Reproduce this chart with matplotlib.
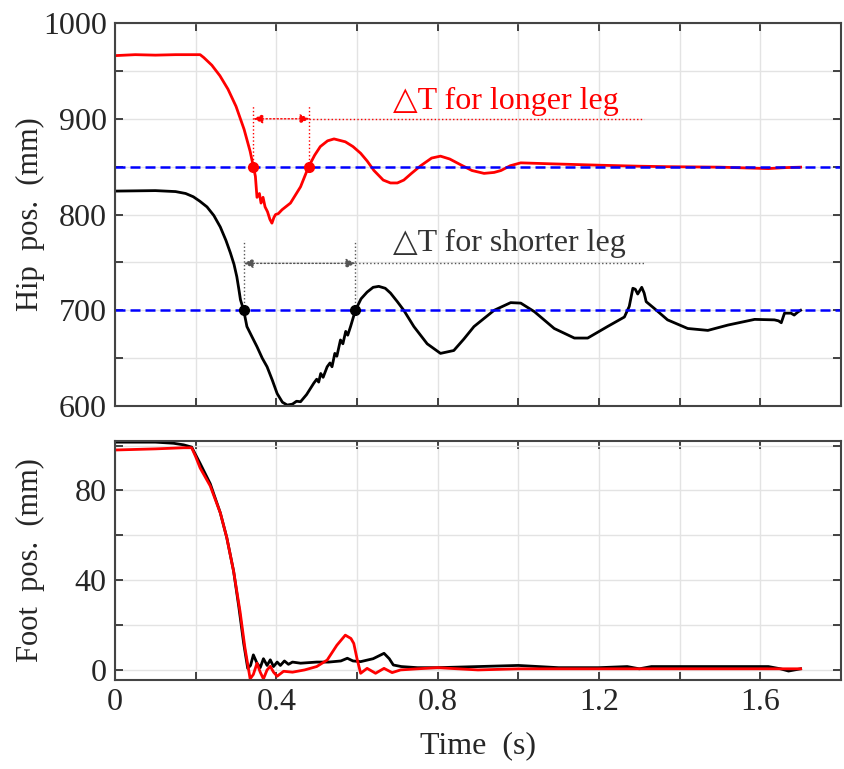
import numpy as np
import matplotlib
matplotlib.use("Agg")
import matplotlib.pyplot as plt

plt.rcParams['font.family'] = ['Liberation Serif', 'DejaVu Serif']
plt.rcParams['text.color'] = '#262626'
plt.rcParams['axes.labelcolor'] = '#262626'
plt.rcParams['xtick.labelcolor'] = '#262626'
plt.rcParams['ytick.labelcolor'] = '#262626'

# hip position, longer leg (red)
hip_long_t = [0, 0.05, 0.1, 0.15, 0.2, 0.211, 0.22, 0.24, 0.26, 0.28, 0.30, 0.32, 0.335, 0.343, 0.348,
              0.352, 0.358, 0.362, 0.367, 0.372, 0.378, 0.384, 0.389, 0.394, 0.398, 0.405, 0.414,
              0.435, 0.46, 0.48, 0.495, 0.509, 0.527, 0.543, 0.571, 0.59, 0.609, 0.625, 0.642, 0.665,
              0.683, 0.7, 0.716, 0.735, 0.758, 0.785, 0.807, 0.83, 0.857, 0.885, 0.915, 0.94, 0.957,
              0.98, 1.006, 1.08, 1.205, 1.3, 1.37, 1.5, 1.62, 1.66, 1.70]
hip_long = [966, 967, 966.5, 967, 967, 967, 964, 956, 945, 931, 913, 889, 866, 850, 840,
            818, 822, 812, 818, 808, 803, 795, 791, 797, 800, 801, 805,
            812, 829, 850, 862, 871, 877, 879, 876, 871, 864, 856, 846, 836,
            833, 833, 836, 843, 851, 859, 861, 858, 852, 846, 843, 844, 846,
            851, 854, 853, 851.5, 850.5, 850, 849.5, 848, 849, 849.5]

# hip position, shorter leg (black)
hip_short_t = [0, 0.1, 0.15, 0.175, 0.194, 0.21, 0.228, 0.245, 0.261, 0.275, 0.286, 0.295, 0.302,
               0.307, 0.311, 0.319, 0.327, 0.34, 0.352, 0.365, 0.377, 0.39, 0.402, 0.415, 0.427,
               0.44, 0.45, 0.46, 0.475, 0.493, 0.5, 0.505, 0.51, 0.516, 0.526, 0.533, 0.538, 0.545,
               0.55, 0.559, 0.565, 0.572, 0.577, 0.584, 0.596, 0.61, 0.625, 0.64, 0.654, 0.67, 0.683,
               0.7, 0.716, 0.741, 0.774, 0.807, 0.84, 0.865, 0.89, 0.94, 0.981, 1.006, 1.04, 1.089,
               1.139, 1.172, 1.221, 1.263, 1.275, 1.284, 1.29, 1.296, 1.306, 1.312, 1.317, 1.337,
               1.37, 1.42, 1.47, 1.52, 1.586, 1.635, 1.645, 1.652, 1.66, 1.676, 1.684, 1.694, 1.70]
hip_short = [824.5, 825, 824, 822, 818.6, 814, 808, 799, 787, 773, 760, 748, 735,
             722, 711, 700, 683, 672, 662, 650, 641, 627, 613, 604, 601,
             602, 605, 604.5, 612, 624, 628, 625, 634, 630, 641, 645, 641, 655,
             652, 669, 665, 678, 674, 683, 700, 712, 719, 724, 725, 723, 718,
             709, 700, 683, 665, 655, 658, 670, 683, 700, 708, 707.5, 698.5, 681,
             671, 671, 683, 693, 704, 723, 722, 717, 724, 718, 709, 702,
             690, 681, 679, 684.6, 690.5, 690, 689, 687, 697, 697, 695, 698.5, 700]

# foot position
foot_short_t = [0, 0.1, 0.145, 0.17, 0.19, 0.211, 0.236, 0.261, 0.277, 0.294, 0.307, 0.319, 0.329,
                0.336, 0.343, 0.352, 0.36, 0.368, 0.377, 0.385, 0.393, 0.402, 0.41, 0.42, 0.43,
                0.44, 0.46, 0.5, 0.53, 0.56, 0.576, 0.59, 0.609, 0.64, 0.667, 0.68, 0.69, 0.71,
                0.75, 0.8, 0.9, 1.0, 1.1, 1.2, 1.27, 1.3, 1.33, 1.5, 1.62, 1.65, 1.67, 1.70]
foot_short = [101.5, 101.5, 101, 100.3, 99.3, 92, 83, 70, 59, 44, 28, 11.8, 0.7,
              2, 6.7, 3, 1, 5, 2, 4.5, 1.5, 3.5, 2, 4, 2.5,
              3.5, 3, 3.5, 3.5, 4, 5.2, 4, 3.7, 5, 7.4, 5, 2.2, 1.5,
              1, 1, 1.5, 2, 1, 1, 1.5, 0.5, 1.5, 1.5, 1.5, 0.5, -0.5, 0.5]
foot_long_t = [0, 0.1, 0.17, 0.19, 0.2, 0.211, 0.236, 0.261, 0.277, 0.294, 0.31, 0.322, 0.335,
               0.343, 0.352, 0.36, 0.368, 0.377, 0.385, 0.393, 0.402, 0.418, 0.44, 0.47, 0.5,
               0.526, 0.55, 0.571, 0.585, 0.592, 0.6, 0.609, 0.625, 0.646, 0.667, 0.687, 0.708,
               0.75, 0.8, 0.9, 1.0, 1.2, 1.5, 1.65, 1.7]
foot_long = [98, 98.5, 99, 99, 95, 90, 82, 70, 59, 44, 26, 10, -4,
             -2, 3, -1, -4, 0, 1.6, -1, -2.8, -0.6, -1, 0, 1.5,
             4.4, 11, 15.5, 14, 11.8, 5, -1.5, 0.7, -1.5, 0.7, -1.2, 0,
             0.5, 1, 0, 0.5, 0.5, 0.5, 0.5, 0.5]

ref_long = 850
ref_short = 700
cross_long = [0.343, 0.482]
cross_short = [0.319, 0.596]

fig = plt.figure(figsize=(8.44, 7.69), dpi=100)
ax1 = fig.add_axes([0.1363, 0.472, 0.8601, 0.498])
ax2 = fig.add_axes([0.1363, 0.1157, 0.8601, 0.3108])

for ax in (ax1, ax2):
    ax.grid(True, color='#e3e3e3', lw=1.0)
    ax.set_axisbelow(True)
    ax.tick_params(direction='in', top=True, right=True, length=6, width=1.3,
                   color='#333333', labelsize=23, pad=6)
    for s in ax.spines.values():
        s.set_color('#444444')
        s.set_linewidth(1.5)
    ax.set_xlim(0, 1.8)
    ax.set_xticks(np.arange(0, 1.81, 0.2))

ax1.set_xticklabels([])
ax2.set_xticklabels(['0', '', '0.4', '', '0.8', '', '1.2', '', '1.6', ''])

# top panel
ax1.plot(hip_long_t, hip_long, color='red', lw=2.0)
ax1.plot(hip_short_t, hip_short, color='black', lw=2.0)
ax1.axhline(ref_long, color='blue', ls=(0, (4, 2)), lw=1.8)
ax1.axhline(ref_short, color='blue', ls=(0, (4, 2)), lw=1.8)
ax1.plot(cross_long, [ref_long] * 2, 'o', color='red', ms=7, zorder=5)
ax1.plot(cross_short, [ref_short] * 2, 'o', color='black', ms=7, zorder=5)

# delta T annotations
for xs, yref, ytop, yarr, col in [(cross_long, ref_long, 913, 900, 'red'),
                                  (cross_short, ref_short, 773, 749, '#555555')]:
    for x in xs:
        ax1.plot([x, x], [yref, ytop], ls=':', color=col, lw=1.0)
    ax1.annotate('', xy=(xs[0], yarr), xytext=(xs[1], yarr),
                 arrowprops=dict(arrowstyle='<|-|>', ls=':', color=col, lw=1.0,
                                 shrinkA=0, shrinkB=0, mutation_scale=14))
    ax1.plot([xs[1], 1.311], [yarr, yarr], ls=':', color=col, lw=1.0)

ax1.text(0.69, 918, '△T for longer leg', color='red', fontsize=23, va='center')
ax1.text(0.69, 770, '△T for shorter leg', color='#333333', fontsize=23, va='center')

ax1.set_ylim(600, 1000)
ax1.set_yticks(np.arange(600, 1001, 50))
ax1.set_yticklabels(['600', '', '700', '', '800', '', '900', '', '1000'])
ax1.set_ylabel('Hip  pos.  (mm)', fontsize=22)

# bottom panel
ax2.plot(foot_short_t, foot_short, color='black', lw=2.0)
ax2.plot(foot_long_t, foot_long, color='red', lw=2.0)
ax2.set_ylim(-4.5, 102)
ax2.set_yticks(np.arange(0, 101, 20))
ax2.set_yticklabels(['0', '', '40', '', '80', ''])
ax2.set_ylabel('Foot  pos.  (mm)', fontsize=22)
ax2.set_xlabel('Time  (s)', fontsize=23, labelpad=10)

# both y labels sit at the same x, like the original
ax1.yaxis.set_label_coords(-0.097, 0.5)
ax2.yaxis.set_label_coords(-0.097, 0.5)

fig.savefig('out.png', dpi=100)
